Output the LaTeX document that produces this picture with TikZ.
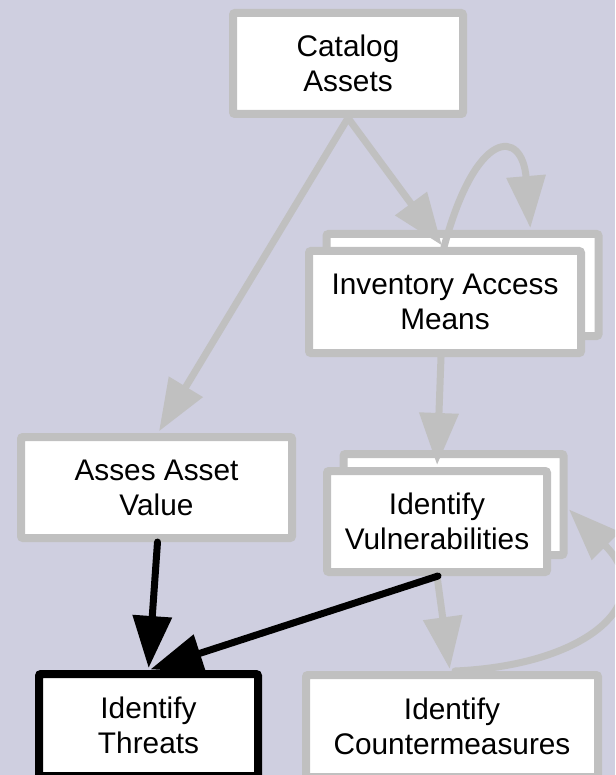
\documentclass[tikz,border=0pt]{standalone}
\usepackage{fontspec}
\setmainfont{Liberation Sans}
\usetikzlibrary{arrows.meta}
\definecolor{bgc}{RGB}{207,207,224}
\definecolor{edgegray}{RGB}{192,192,192}
\tikzset{
  box/.style={draw=edgegray, fill=white, line width=8pt, rounded corners=2pt,
    align=center, inner sep=0pt, font=\fontsize{29.8}{35}\selectfont},
  boldbox/.style={box, draw=black},
  grayedge/.style={draw=edgegray, line width=7pt, line cap=round,
    -{Triangle[length=52pt,width=38pt]}, shorten >=2pt},
  blackedge/.style={grayedge, draw=black},
}
\begin{document}
\begin{tikzpicture}[x=1pt,y=-1pt]
\useasboundingbox (0,0) rectangle (615,775);
\fill[bgc] (0,0) rectangle (615,775);
\clip (0,0) rectangle (615,775);
% nodes
\node[box, minimum width=230pt, minimum height=101pt] (cat) at (348,63.5) {Catalog\\Assets};
\node[box, minimum width=272pt, minimum height=102pt] (invb) at (462.5,285) {};
\node[box, minimum width=272pt, minimum height=102pt] (inv) at (445,302) {Inventory Access\\Means};
\node[box, minimum width=220pt, minimum height=101pt] (vulnb) at (453.5,504.5) {};
\node[box, minimum width=220pt, minimum height=101pt] (vuln) at (437,521.5) {Identify\\Vulnerabilities};
\node[box, minimum width=271pt, minimum height=101pt] (asses) at (156.5,487.5) {Asses Asset\\Value};
\node[boldbox, minimum width=219pt, minimum height=102pt] (thr) at (148.5,725) {Identify\\Threats};
\node[box, minimum width=292pt, minimum height=102pt] (cm) at (452,726) {Identify\\Countermeasures};
% edges
\draw[grayedge] (cat.south) -- ([xshift=1.5pt]asses.north);
\draw[grayedge] (cat.south) -- ([xshift=-2pt]inv.north);
\draw[grayedge] ([xshift=-1pt]inv.north) .. controls (476,128) and (522,128) .. ([xshift=68pt]invb.north);
\draw[grayedge] ([xshift=-4pt]inv.south) -- (vuln.north);
\draw[grayedge] (vuln.south) -- ([xshift=-2pt]cm.north);
\draw[grayedge] ([xshift=3pt]cm.north) .. controls (590,665) and (660,600) .. ([yshift=-3.5pt]vulnb.east);
\draw[blackedge] ([xshift=1pt]vuln.south) -- (thr.north);
\draw[blackedge] ([xshift=1pt]asses.south) -- (thr.north);
\end{tikzpicture}
\end{document}
